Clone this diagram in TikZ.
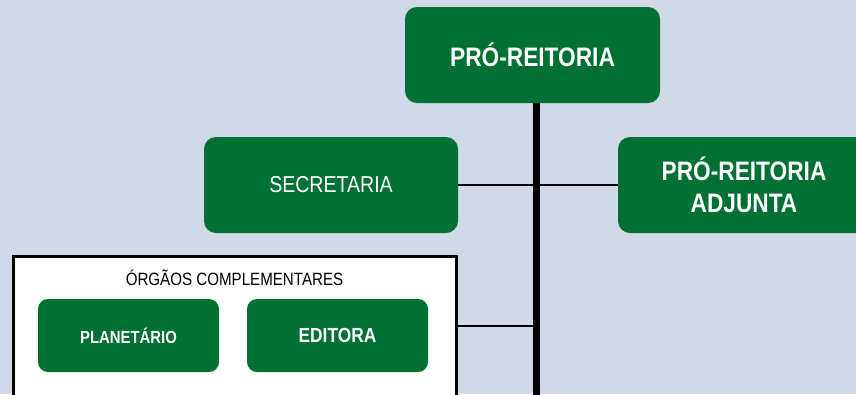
\documentclass[tikz,border=0pt]{standalone}
\usepackage{fontspec}
\setmainfont[FakeStretch=0.85]{Liberation Sans}
\definecolor{bg}{RGB}{209,216,231}
\definecolor{grn}{RGB}{0,112,51}
\begin{document}
\begin{tikzpicture}[x=1pt,y=-1pt,
  gbox/.style={fill=grn,draw=none,rounded corners=12pt,text=white,align=center,inner sep=0pt},
  sbox/.style={fill=grn,draw=none,rounded corners=10pt,text=white,align=center,inner sep=0pt,minimum width=181pt,minimum height=73pt},
  conn/.style={draw=black,line width=2pt},
  bus/.style={draw=black,line width=7pt}]
\clip (0,0) rectangle (856,394);
\fill[bg] (0,0) rectangle (856,394);
\node[gbox,minimum width=255pt,minimum height=96pt,font=\fontsize{26.7}{30}\selectfont\bfseries] (pro) at (532.5,55) {PRÓ-REITORIA};
\node[gbox,minimum width=254pt,minimum height=96pt,font=\fontsize{23}{26}\selectfont] (sec) at (331,185) {SECRETARIA};
\node[gbox,minimum width=252pt,minimum height=96pt,font=\fontsize{26.7}{31.5}\selectfont\bfseries] (adj) at (744,185) {PRÓ-REITORIA\\ADJUNTA};
\node[fill=white,draw=black,line width=3pt,minimum width=443pt,minimum height=140pt,inner sep=0pt] (org) at (234.5,326) {};
\node[inner sep=0pt,font=\fontsize{17.8}{20}\selectfont] (orgt) at (234.5,278) {ÓRGÃOS COMPLEMENTARES};
\node[sbox,font=\fontsize{17.5}{20}\selectfont\bfseries] (pla) at (128.5,335.5) {PLANETÁRIO};
\node[sbox,font=\fontsize{20.4}{23}\selectfont\bfseries] (edi) at (337.5,335.5) {EDITORA};
\coordinate (top) at (536.5,103);
\coordinate (bot) at (536.5,400);
\draw[conn] (sec.east) -- (adj.west);
\draw[conn] (org.east) -- (536.5,326);
\draw[bus] (top) -- (bot);
\end{tikzpicture}
\end{document}
